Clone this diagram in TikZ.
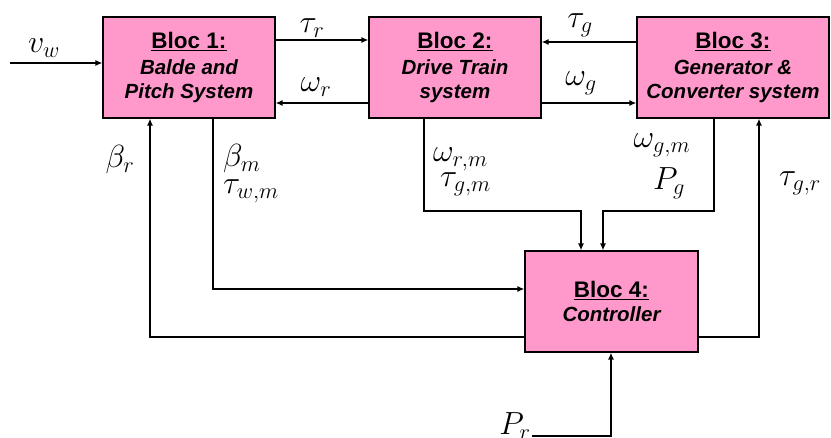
\RequirePackage{fix-cm}
\documentclass[tikz,border=0pt]{standalone}
\usepackage{fontspec}
\newfontfamily\arialf{Liberation Sans}
\usetikzlibrary{arrows.meta}
\definecolor{blkpink}{HTML}{FF99CC}
\newcommand\bloctitle[1]{{\fontsize{22.5}{24}\selectfont\upshape$\underline{\hbox{\arialf\bfseries\fontsize{22.5}{24}\selectfont #1}}$}}
\begin{document}
\begin{tikzpicture}[x=1pt,y=-1pt,
  blk/.style={draw=black,line width=1.1pt,fill=blkpink,inner sep=0pt,align=center,
    font=\arialf\bfseries\itshape\fontsize{20.5}{24.5}\selectfont,text=black},
  conn/.style={line width=1.5pt,-{Latex[length=7pt,width=6pt]}},
  lbl/.style={inner sep=0pt,font=\fontsize{32}{36}\selectfont}]
\useasboundingbox (0,0) rectangle (831,438);
\node[blk,minimum width=172pt,minimum height=101pt] (b1) at (189,67.5)
  {\bloctitle{Bloc 1:}\\[1pt]Balde and\\Pitch System};
\node[blk,minimum width=172pt,minimum height=101pt] (b2) at (455,67.5)
  {\bloctitle{Bloc 2:}\\[1pt]Drive Train\\system};
\node[blk,minimum width=192pt,minimum height=101pt] (b3) at (733,67.5)
  {\bloctitle{Bloc 3:}\\[1pt]Generator \&\\Converter system};
\node[blk,minimum width=173pt,minimum height=101pt] (b4) at (611.5,301.5)
  {\bloctitle{Bloc 4:}\\[0pt]Controller};
% inputs / horizontal links
\coordinate (vw) at (10,63);
\draw[conn] (vw) -- (vw -| b1.west);
\draw[conn] (b1.east |- 0,40) -- (b2.west |- 0,40);
\draw[conn] (b2.west |- 0,103) -- (b1.east |- 0,103);
\draw[conn] (b3.west |- 0,42) -- (b2.east |- 0,42);
\draw[conn] (b2.east |- 0,103) -- (b3.west |- 0,103);
% feedback lines
\coordinate (br) at (150,337);
\draw[conn] (b4.west |- br) -- (br) -- (br |- b1.south);
\coordinate (bm) at (213,289);
\draw[conn] (bm |- b1.south) -- (bm) -- (bm -| b4.west);
\coordinate (tgr) at (759,337);
\draw[conn] (b4.east |- tgr) -- (tgr) -- (tgr |- b3.south);
\coordinate (wrm1) at (424,211);
\coordinate (wrm2) at (581,211);
\draw[conn] (wrm1 |- b2.south) -- (wrm1) -- (wrm2) -- (wrm2 |- b4.north);
\coordinate (wgm1) at (714,211);
\coordinate (wgm2) at (603,211);
\draw[conn] (wgm1 |- b3.south) -- (wgm1) -- (wgm2) -- (wgm2 |- b4.north);
\coordinate (pr) at (532,436);
\coordinate (pr2) at (611,436);
\draw[conn] (pr) -- (pr2) -- (pr2 |- b4.south);
% labels
\node[lbl] (lvw) at (44,48) {$v_w$};
\node[lbl] (ltr) at (312,28) {$\tau_r$};
\node[lbl] (lwr) at (316,87) {$\omega_r$};
\node[lbl] (ltg) at (580,25) {$\tau_g$};
\node[lbl] (lwg) at (581,83) {$\omega_g$};
\node[lbl] (lbr) at (120,160) {$\beta_r$};
\node[lbl,anchor=west] (lbm) at (223,159) {$\beta_m$};
\node[lbl,anchor=west] (ltwm) at (223,191) {$\tau_{w,m}$};
\node[lbl,anchor=west] (lwrm) at (433,159) {$\omega_{r,m}$};
\node[lbl,anchor=west] (ltgm) at (440,184) {$\tau_{g,m}$};
\node[lbl] (lwgm) at (662,145) {$\omega_{g,m}$};
\node[lbl] (lpg) at (669,183) {$P_g$};
\node[lbl] (ltgr) at (800,183) {$\tau_{g,r}$};
\node[lbl] (lpr) at (515,426) {$P_r$};
\end{tikzpicture}
\end{document}
